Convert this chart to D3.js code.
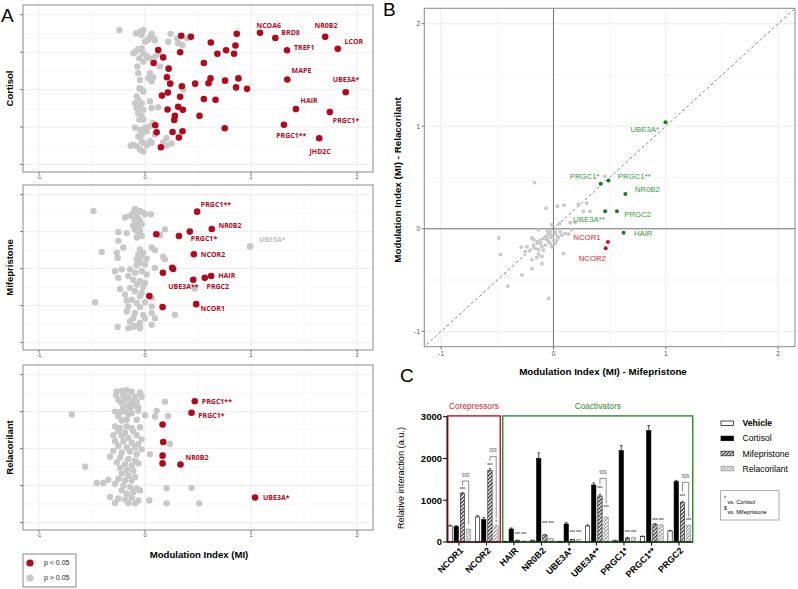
<!DOCTYPE html>
<html><head><meta charset="utf-8">
<script src="https://cdn.jsdelivr.net/npm/d3@7"></script>
<style>body{margin:0;background:#fff}svg{font-family:"Liberation Sans",Arial,sans-serif}</style>
</head><body><svg id="c" width="798" height="589"></svg>
<script>
// ---------------- DATA ----------------
// Panel A: [Modulation Index, jitter]
const cortisolSig = [[0.342,3.44],[0.433,3.41],[0.865,3.49],[0.621,3.26],[0.853,3.18],[0.125,3.06],[0.332,3.00],[0.683,2.96],[0.765,3.05],[0.840,2.96],[0.172,2.86],[0.082,2.71],[0.555,2.71],[0.223,2.56],[0.207,2.33],[0.238,2.16],[0.348,2.09],[0.473,2.16],[0.599,2.17],[0.618,2.30],[0.755,2.24],[0.881,2.30],[0.859,2.06],[0.962,2.02],[0.216,1.92],[0.160,1.84],[0.332,1.81],[0.555,1.75],[0.665,1.73],[0.213,1.47],[0.313,1.54],[0.357,1.46],[0.282,1.30],[0.276,1.19],[0.514,1.30],[0.097,1.05],[0.110,0.86],[0.260,0.87],[0.354,0.89],[0.320,0.72],[0.752,0.97],[0.150,0.46]];
const cortisolNS = [[-0.241,3.59],[-0.085,3.50],[-0.047,3.55],[-0.016,3.59],[-0.031,3.46],[0.063,3.49],[0.047,3.41],[0.085,3.37],[0.031,3.33],[0.0,3.28],[0.094,3.31],[0.241,3.49],[0.304,3.37],[0.219,3.28],[0.313,3.24],[0.354,3.19],[0.398,3.37],[-0.085,3.02],[-0.063,3.08],[-0.031,3.10],[-0.110,2.97],[-0.016,2.97],[-0.053,2.84],[0.016,2.90],[0.094,2.88],[0.041,2.84],[0.125,2.95],[0.047,2.44],[0.078,2.33],[0.031,2.31],[-0.047,2.26],[0.063,2.22],[-0.053,2.04],[-0.031,2.00],[-0.016,1.95],[-0.078,1.82],[-0.063,1.73],[-0.094,1.64],[-0.031,1.64],[0.047,1.69],[-0.078,1.51],[-0.047,1.53],[-0.016,1.46],[-0.063,1.37],[-0.031,1.29],[-0.016,1.20],[-0.053,1.20],[0.063,1.51],[0.125,1.53],[0.361,2.00],[-0.094,0.98],[-0.047,0.93],[0.0,0.98],[0.047,1.02],[0.016,0.89],[-0.031,0.80],[-0.063,0.75],[-0.110,0.53],[-0.135,0.50],[-0.078,0.49],[-0.031,0.62],[-0.016,0.58],[0.016,0.51],[0.063,0.58],[-0.047,0.40],[-0.016,0.35],[0.204,0.51],[0.172,0.59],[0.251,0.56],[0.094,0.80],[0.047,0.62],[0.078,1.11],[0.204,0.71],[-0.063,2.44],[-0.072,2.62],[0.141,2.62],[-0.016,2.75]];
const cortisolLabeled = [["NCOA6",1.085,3.52],["BRD8",1.229,3.38],["NR0B2",1.699,3.41],["LCOR",1.818,3.09],["TREF1",1.339,3.05],["MAPE",1.342,2.27],["UBE3A*",1.893,1.93],["HAIR",1.423,1.48],["PRGC1*",1.743,1.40],["PRGC1**",1.310,1.06],["JHD2C",1.643,0.70]];

const mifeSig = [[0.320,2.88],[0.107,2.93],[0.257,2.02],[0.266,1.99],[0.169,1.89],[0.041,1.26],[0.166,0.96]];
const mifeNS = [[-0.486,3.56],[-0.094,3.61],[-0.047,3.56],[-0.110,3.52],[-0.078,3.45],[-0.016,3.52],[0.0,3.47],[0.056,3.47],[-0.141,3.43],[-0.188,3.38],[-0.063,3.35],[-0.100,3.32],[-0.047,3.29],[-0.078,3.23],[-0.031,3.20],[-0.110,3.16],[-0.063,3.11],[-0.094,3.05],[-0.047,3.02],[0.188,3.06],[-0.251,2.99],[-0.172,2.96],[-0.063,2.93],[-0.078,2.84],[-0.031,2.88],[0.141,2.90],[-0.251,2.75],[-0.204,2.57],[-0.266,2.43],[-0.408,2.45],[-0.257,2.29],[-0.047,2.52],[-0.016,2.43],[-0.063,2.38],[0.063,2.57],[0.094,2.50],[-0.031,2.32],[-0.078,2.25],[0.016,2.27],[0.172,2.32],[0.188,2.25],[-0.047,2.16],[0.0,2.11],[-0.078,2.09],[0.094,2.02],[-0.282,1.93],[-0.219,1.98],[-0.141,1.98],[-0.094,1.89],[-0.031,1.93],[0.016,1.84],[-0.157,1.80],[-0.251,1.75],[-0.110,1.70],[-0.047,1.66],[0.0,1.61],[-0.078,1.57],[-0.141,1.48],[-0.016,1.50],[-0.235,1.45],[-0.094,1.39],[-0.031,1.34],[-0.188,1.30],[-0.047,1.25],[0.063,1.21],[-0.125,1.16],[-0.172,1.14],[-0.078,1.07],[0.0,1.09],[-0.470,1.09],[-0.157,0.98],[-0.047,0.96],[-0.172,0.84],[0.063,0.98],[0.282,0.75],[-0.094,0.80],[-0.016,0.75],[0.063,0.80],[-0.110,0.66],[0.0,0.66],[0.094,0.66],[-0.141,0.57],[-0.047,0.53],[-0.094,0.45],[0.063,0.48],[-0.257,0.42],[-0.157,0.39],[-0.110,0.42],[-0.047,0.39],[0.141,2.91],[0.470,1.46]];
const mifeLabeled = [["PRGC1**",0.492,3.54,1],["NR0B2",0.630,3.07,1],["PRGC1*",0.423,3.00,1],["NCOR2",0.461,2.39,1],["HAIR",0.624,1.80,1],["PRGC2",0.564,1.75,1],["UBE3A**",0.455,1.70,1],["NCOR1",0.483,1.04,1],["UBE3A*",0.991,2.60,0]];

const reliSig = [[0.166,2.65],[0.172,2.18],[0.166,1.81],[0.166,1.60]];
const reliNS = [[-0.266,3.54],[-0.219,3.56],[-0.172,3.58],[-0.125,3.54],[-0.047,3.52],[-0.273,3.45],[-0.204,3.45],[-0.157,3.40],[-0.094,3.40],[-0.031,3.40],[-0.251,3.32],[-0.188,3.34],[-0.125,3.29],[-0.078,3.27],[-0.219,3.23],[-0.157,3.18],[-0.110,3.16],[-0.204,3.11],[-0.141,3.09],[-0.063,3.11],[-0.282,3.00],[-0.235,2.99],[-0.188,3.00],[-0.125,2.96],[-0.063,3.02],[0.0,2.90],[-0.251,2.87],[-0.157,2.92],[-0.219,2.76],[-0.172,2.78],[-0.078,2.78],[0.110,3.02],[0.094,2.87],[0.219,2.88],[0.188,3.27],[-0.690,2.92],[-0.282,2.60],[-0.235,2.56],[-0.172,2.60],[-0.125,2.56],[-0.047,2.58],[-0.251,2.47],[-0.188,2.43],[-0.110,2.47],[-0.298,2.36],[-0.219,2.34],[-0.157,2.29],[-0.078,2.36],[-0.031,2.25],[-0.282,2.20],[-0.204,2.19],[-0.125,2.16],[-0.063,2.12],[0.235,2.13],[-0.251,2.07],[-0.172,2.03],[-0.094,2.03],[-0.031,1.98],[-0.298,1.94],[-0.219,1.89],[-0.141,1.92],[-0.078,1.85],[0.047,1.85],[-0.329,1.78],[-0.235,1.76],[-0.157,1.72],[-0.094,1.67],[-0.266,1.63],[-0.188,1.58],[-0.125,1.54],[-0.063,1.60],[-0.564,1.51],[-0.235,1.48],[-0.172,1.42],[-0.110,1.40],[-0.219,1.32],[-0.157,1.27],[-0.094,1.23],[-0.251,1.18],[-0.188,1.14],[-0.125,1.14],[-0.455,1.07],[-0.392,1.07],[-0.345,1.16],[-0.282,1.05],[-0.204,1.00],[-0.141,0.96],[-0.078,0.92],[-0.219,0.87],[-0.172,0.78],[-0.110,0.83],[-0.047,0.87],[0.204,0.93],[0.439,0.94],[-0.329,0.69],[-0.251,0.65],[-0.188,0.62],[-0.125,0.68],[-0.063,0.60],[-0.282,0.53],[-0.157,0.53],[-0.094,0.52],[0.041,0.60],[0.204,0.52],[0.511,0.52]];
const reliLabeled = [["PRGC1**",0.470,3.28],["PRGC1*",0.439,2.97],["NR0B2",0.335,1.57],["UBE3A*",1.038,0.68]];

const facetNames = ["Cortisol","Mifepristone","Relacorilant"];
const aTicks = [-1,0,1,2];

// Panel B: [MI Mifepristone, MI Relacorilant]
const bGrey = [[-0.168,0.45],[-0.065,0.20],[0.035,0.22],[0.094,0.23],[0.221,0.24],[0.295,0.25],[0.053,0.05],[0.148,0.06],[0.266,0.17],[0.325,0.17],[0.458,0.51],[0.192,0.06],[-0.487,-0.09],[-0.472,-0.25],[-0.407,-0.56],[-0.280,-0.45],[-0.044,-0.68],[0.089,-0.24],[-0.103,-0.34],[-0.192,-0.39],[-0.286,-0.18],[-0.251,-0.22],[-0.192,-0.30],[-0.148,-0.28],[-0.103,-0.27],[-0.192,-0.09],[-0.133,-0.01],[-0.015,0.04],[-0.177,-0.104],[-0.148,-0.126],[-0.118,-0.110],[-0.089,-0.094],[-0.065,-0.071],[-0.044,-0.045],[-0.030,-0.084],[-0.015,-0.062],[0.015,-0.045],[0.035,-0.071],[0.059,-0.029],[0.074,-0.062],[0.0,-0.110],[-0.044,-0.126],[-0.074,-0.159],[-0.103,-0.175],[-0.133,-0.201],[-0.162,-0.191],[-0.118,-0.143],[-0.059,-0.104],[-0.030,-0.143],[-0.089,-0.208],[-0.133,-0.246],[-0.177,-0.159],[-0.207,-0.208],[-0.236,-0.175],[0.030,-0.110],[0.015,-0.143],[-0.015,-0.175],[0.044,-0.084],[0.103,-0.045],[0.133,-0.052],[-0.030,-0.029],[-0.059,-0.013],[0.015,-0.013],[0.16,-0.01]];
const bCoactivators = [["UBE3A*",0.997,1.04],["PRGC1*",0.42,0.44],["PRGC1**",0.49,0.47],["NR0B2",0.64,0.34],["UBE3A**",0.46,0.17],["PRGC2",0.565,0.17],["HAIR",0.624,-0.04]];
const bCorepressors = [["NCOR1",0.485,-0.13],["NCOR2",0.465,-0.19]];
const bTicks = [-1,0,1,2];

// Panel C
const cCats = ["NCOR1","NCOR2","HAIR","NR0B2","UBE3A*","UBE3A**","PRGC1*","PRGC1**","PRGC2"];
const cSeries = ["Vehicle","Cortisol","Mifepristone","Relacorilant"];
const vehicleVals = [383,599,12,40,12,383,40,128,263];
const cortisolVals = [367,535,311,2003,431,1365,2187,2666,1445];
const mifeVals = [1157,1716,40,168,56,1101,96,423,942];
const reliVals = [295,383,24,80,56,583,104,399,391];
const vehicleErr = [20,30,4,5,4,25,5,15,15];
const cortisolErr = [25,50,25,130,30,50,120,120,30];
const mifeErr = [30,40,5,15,5,40,10,20,35];
const reliErr = [15,25,5,5,5,20,10,20,15];
const cTicks = [0,1000,2000,3000];
// significance annotations: [category, series, text, value-level]
const cStars = [["NCOR1","Mifepristone","***",1261],["NCOR2","Mifepristone","***",1844],["NCOR2","Relacorilant","*",479],
  ["HAIR","Mifepristone","***",184],["HAIR","Relacorilant","***",184],["NR0B2","Mifepristone","***",439],["NR0B2","Relacorilant","***",439],
  ["UBE3A*","Mifepristone","***",239],["UBE3A*","Relacorilant","***",239],["UBE3A**","Mifepristone","***",1285],["UBE3A**","Relacorilant","***",822],
  ["PRGC1*","Mifepristone","***",239],["PRGC1*","Relacorilant","***",239],["PRGC1**","Mifepristone","***",511],["PRGC1**","Relacorilant","***",511],
  ["PRGC2","Mifepristone","***",1101],["PRGC2","Relacorilant","***",511]];
// brackets: [category, top, leftLegEnd, rightLegEnd, label]
const cBrackets = [["NCOR1",1460,1350,420,"$$$"],["NCOR2",2043,1940,560,"$$$"],["UBE3A**",1524,1380,920,"$$$"],["PRGC2",1428,1200,600,"$$$"]];

// ---------------- DRAW ----------------
const svg = d3.select("#c");
const RED = "#b3091d", GREY = "#c8c8c8", GRID = "#ebebeb", FRAME = "#8a8a8a", TICKC = "#4d4d4d";

const defs = svg.append("defs");
function hatch(id, col){
  const p = defs.append("pattern").attr("id",id).attr("patternUnits","userSpaceOnUse")
    .attr("width",2.6).attr("height",2.6).attr("patternTransform","rotate(45)");
  p.append("rect").attr("width",2.6).attr("height",2.6).attr("fill","#fff");
  p.append("line").attr("x1",0.6).attr("y1",0).attr("x2",0.6).attr("y2",2.6).attr("stroke",col).attr("stroke-width",1.2);
}
hatch("hDark","#222"); hatch("hLight","#9a9a9a");

// ---- Panel A ----
svg.append("text").attr("x",1).attr("y",22).attr("font-size",19).text("A");
const xA = d3.scaleLinear().domain([-1.15,2.15]).range([23,373]);
const facetTops = [5,185,365], facetH = [167,165,165];
const aSets = [
  {sig:cortisolSig, ns:cortisolNS, lab:cortisolLabeled},
  {sig:mifeSig, ns:mifeNS, lab:mifeLabeled},
  {sig:reliSig, ns:reliNS, lab:reliLabeled}];
const labOff = [
  {"NCOA6":[-3.6,-7.5,"start"],"BRD8":[6,-5.3,"start"],"NR0B2":[-10.7,-11,"start"],"LCOR":[6.7,-7.7,"start"],"TREF1":[7,-2.7,"start"],
   "MAPE":[4.3,-8.7,"start"],"UBE3A*":[-13,-12.3,"start"],"HAIR":[4.7,-8.3,"start"],"PRGC1*":[3,8.7,"start"],"PRGC1**":[-7.7,10.3,"start"],"JHD2C":[-9.7,13,"start"]},
  {"PRGC1**":[3.7,-6.7,"start"],"NR0B2":[6.7,-3,"start"],"PRGC1*":[1,7.4,"start"],"NCOR2":[7,0,"start"],"HAIR":[7,0,"start"],
   "PRGC2":[1.7,8.4,"start"],"UBE3A**":[-25,6.4,"start"],"NCOR1":[4.4,4,"start"],"UBE3A*":[9,-7,"start"]},
  {"PRGC1**":[7,0,"start"],"PRGC1*":[6.6,3,"start"],"NR0B2":[5,-6.7,"start"],"UBE3A*":[8,0,"start"]}];

aSets.forEach((set,i)=>{
  const top = facetTops[i], bot = top+facetH[i];
  const yA = d3.scaleLinear().domain([-0.2,4.26]).range([bot,top]);
  const g = svg.append("g");
  g.append("rect").attr("x",23).attr("y",top).attr("width",350).attr("height",facetH[i]).attr("fill","#fff");
  [-0.5,0.5,1.5].forEach(v=>g.append("line").attr("x1",xA(v)).attr("x2",xA(v)).attr("y1",top).attr("y2",bot).attr("stroke","#f3f3f3").attr("stroke-width",0.6));
  d3.range(0.5,4,1).forEach(v=>g.append("line").attr("x1",23).attr("x2",373).attr("y1",yA(v)).attr("y2",yA(v)).attr("stroke","#f0f0f0").attr("stroke-width",0.6));
  aTicks.forEach(v=>g.append("line").attr("x1",xA(v)).attr("x2",xA(v)).attr("y1",top).attr("y2",bot).attr("stroke",GRID).attr("stroke-width",0.9));
  d3.range(0,5).forEach(v=>g.append("line").attr("x1",23).attr("x2",373).attr("y1",yA(v)).attr("y2",yA(v)).attr("stroke",GRID).attr("stroke-width",0.9));
  g.selectAll(null).data(set.ns).join("circle").attr("cx",d=>xA(d[0])).attr("cy",d=>yA(d[1])).attr("r",3.2).attr("fill",GREY);
  g.selectAll(null).data(set.sig).join("circle").attr("cx",d=>xA(d[0])).attr("cy",d=>yA(d[1])).attr("r",3.3).attr("fill",RED);
  g.selectAll(null).data(set.lab).join("circle").attr("cx",d=>xA(d[1])).attr("cy",d=>yA(d[2])).attr("r",3.3)
    .attr("fill",d=>d[3]===0?GREY:RED);
  g.selectAll(null).data(set.lab).join("text")
    .attr("x",d=>xA(d[1])+labOff[i][d[0]][0]).attr("y",d=>yA(d[2])+labOff[i][d[0]][1])
    .attr("dy","0.35em").attr("text-anchor",d=>labOff[i][d[0]][2])
    .attr("font-size",7).attr("font-weight","bold").attr("font-family","'Open Sans','DejaVu Sans',sans-serif")
    .attr("fill",d=>d[3]===0?"#c0c0c0":RED).text(d=>d[0]);
  g.append("rect").attr("x",23).attr("y",top).attr("width",350).attr("height",facetH[i]).attr("fill","none").attr("stroke",FRAME).attr("stroke-width",1);
  d3.range(0,5).forEach(v=>g.append("line").attr("x1",20).attr("x2",23).attr("y1",yA(v)).attr("y2",yA(v)).attr("stroke","#444").attr("stroke-width",0.7));
  aTicks.forEach(v=>{
    g.append("line").attr("x1",xA(v)).attr("x2",xA(v)).attr("y1",bot).attr("y2",bot+2.5).attr("stroke","#444").attr("stroke-width",0.7);
    g.append("text").attr("x",xA(v)).attr("y",bot+7).attr("text-anchor","middle").attr("font-size",5.5).attr("fill",TICKC).text(v);
  });
  g.append("text").attr("transform",`translate(13,${(top+bot)/2}) rotate(-90)`).attr("text-anchor","middle")
    .attr("font-size",9.5).attr("font-weight","bold").text(facetNames[i]);
});
svg.append("text").attr("x",199).attr("y",558).attr("text-anchor","middle").attr("font-size",9.6).attr("font-weight","bold").text("Modulation Index (MI)");
svg.append("rect").attr("x",23).attr("y",554).attr("width",53).attr("height",33).attr("fill","#fff").attr("stroke","#555").attr("stroke-width",0.7);
[["p < 0.05",RED],["p > 0.05",GREY]].forEach((d,k)=>{
  svg.append("circle").attr("cx",30).attr("cy",563+k*15).attr("r",3.6).attr("fill",d[1]);
  svg.append("text").attr("x",44).attr("y",563+k*15).attr("dy","0.35em").attr("font-size",7).attr("fill","#222").text(d[0]);
});

// ---- Panel B ----
svg.append("text").attr("x",383).attr("y",16).attr("font-size",19).text("B");
const xB = d3.scaleLinear().domain([-1.15,2.15]).range([424.3,795]);
const yB = d3.scaleLinear().domain([-1.15,2.15]).range([346.7,8.3]);
const gB = svg.append("g");
gB.append("rect").attr("x",424.3).attr("y",8.3).attr("width",370.7).attr("height",338.4).attr("fill","#fff");
[-0.5,0.5,1.5].forEach(v=>{
  gB.append("line").attr("x1",xB(v)).attr("x2",xB(v)).attr("y1",8.3).attr("y2",346.7).attr("stroke","#f2f2f2").attr("stroke-width",0.6);
  gB.append("line").attr("y1",yB(v)).attr("y2",yB(v)).attr("x1",424.3).attr("x2",795).attr("stroke","#f2f2f2").attr("stroke-width",0.6);
});
bTicks.forEach(v=>{
  gB.append("line").attr("x1",xB(v)).attr("x2",xB(v)).attr("y1",8.3).attr("y2",346.7).attr("stroke",GRID).attr("stroke-width",0.9);
  gB.append("line").attr("y1",yB(v)).attr("y2",yB(v)).attr("x1",424.3).attr("x2",795).attr("stroke",GRID).attr("stroke-width",0.9);
});
gB.append("line").attr("x1",xB(0)).attr("x2",xB(0)).attr("y1",8.3).attr("y2",346.7).attr("stroke","#666").attr("stroke-width",0.9);
gB.append("line").attr("y1",yB(0)).attr("y2",yB(0)).attr("x1",424.3).attr("x2",795).attr("stroke","#666").attr("stroke-width",0.9);
gB.append("line").attr("x1",xB(-1.13)).attr("y1",yB(-1.13)).attr("x2",xB(2.14)).attr("y2",yB(2.14))
  .attr("stroke","#555").attr("stroke-width",0.7).attr("stroke-dasharray","3,2.5");
gB.selectAll(null).data(bGrey).join("circle").attr("cx",d=>xB(d[0])).attr("cy",d=>yB(d[1])).attr("r",1.9).attr("fill",GREY);
const GREEN_DOT = "#1d7a1d", GREEN_TXT = "#3a9a3a", RED_DOT = "#d0101e", RED_TXT = "#e3212f";
const bOff = {"UBE3A*":[-6.4,7.3,"end"],"PRGC1*":[-1,-7.6,"end"],"PRGC1**":[9.3,-4.3,"start"],"NR0B2":[9.3,-4.7,"start"],
  "UBE3A**":[-0.4,8,"end"],"PRGC2":[7.3,2.7,"start"],"HAIR":[10.3,0,"start"],"NCOR1":[-7.3,-5,"end"],"NCOR2":[0.3,10,"end"]};
[[bCoactivators,GREEN_DOT,GREEN_TXT],[bCorepressors,RED_DOT,RED_TXT]].forEach(([arr,dc,tc])=>{
  gB.selectAll(null).data(arr).join("circle").attr("cx",d=>xB(d[1])).attr("cy",d=>yB(d[2])).attr("r",2).attr("fill",dc);
  gB.selectAll(null).data(arr).join("text").attr("x",d=>xB(d[1])+bOff[d[0]][0]).attr("y",d=>yB(d[2])+bOff[d[0]][1])
    .attr("dy","0.35em").attr("text-anchor",d=>bOff[d[0]][2]).attr("font-size",7.8).attr("fill",tc).text(d=>d[0]);
});
gB.append("rect").attr("x",424.3).attr("y",8.3).attr("width",370.7).attr("height",338.4).attr("fill","none").attr("stroke",FRAME).attr("stroke-width",1);
bTicks.forEach(v=>{
  gB.append("line").attr("x1",xB(v)).attr("x2",xB(v)).attr("y1",346.7).attr("y2",349.5).attr("stroke","#444").attr("stroke-width",0.7);
  gB.append("text").attr("x",xB(v)).attr("y",354).attr("dy","0.35em").attr("text-anchor","middle").attr("font-size",6.5).attr("fill",TICKC).text(v);
  gB.append("line").attr("y1",yB(v)).attr("y2",yB(v)).attr("x1",421.5).attr("x2",424.3).attr("stroke","#444").attr("stroke-width",0.7);
  gB.append("text").attr("x",420).attr("y",yB(v)).attr("dy","0.35em").attr("text-anchor","end").attr("font-size",6.5).attr("fill",TICKC).text(v);
});
svg.append("text").attr("x",603).attr("y",375).attr("text-anchor","middle").attr("font-size",9.8).attr("font-weight","bold").text("Modulation Index (MI) - Mifepristone");
svg.append("text").attr("transform","translate(401,180) rotate(-90)").attr("text-anchor","middle").attr("font-size",9.8).attr("font-weight","bold").text("Modulation Index (MI) - Relacorilant");

// ---- Panel C ----
svg.append("text").attr("x",400).attr("y",382).attr("font-size",19).text("C");
const xC = d3.scaleBand().domain(cCats).range([445.25,692.75]);
const xS = d3.scaleBand().domain(cSeries).range([2.6,25.6]).paddingInner(0.3);
const yC = d3.scaleLinear().domain([0,3000]).range([542,416.7]);
const vals = {"Vehicle":vehicleVals,"Cortisol":cortisolVals,"Mifepristone":mifeVals,"Relacorilant":reliVals};
const errs = {"Vehicle":vehicleErr,"Cortisol":cortisolErr,"Mifepristone":mifeErr,"Relacorilant":reliErr};
const fills = {"Vehicle":"#fff","Cortisol":"#000","Mifepristone":"url(#hDark)","Relacorilant":"url(#hLight)"};
const strokes = {"Vehicle":"#000","Cortisol":"#000","Mifepristone":"#222","Relacorilant":"#9a9a9a"};
const gC = svg.append("g");
cSeries.forEach(s=>{
  cCats.forEach((c,j)=>{
    const x = xC(c)+xS(s), w = xS.bandwidth(), v = vals[s][j], e = errs[s][j];
    const cx = x+w/2;
    gC.append("line").attr("x1",cx).attr("x2",cx).attr("y1",yC(v)).attr("y2",yC(v+e)).attr("stroke",strokes[s]).attr("stroke-width",0.7);
    gC.append("line").attr("x1",cx-1.3).attr("x2",cx+1.3).attr("y1",yC(v+e)).attr("y2",yC(v+e)).attr("stroke",strokes[s]).attr("stroke-width",0.7);
    gC.append("rect").attr("x",x).attr("y",yC(v)).attr("width",w).attr("height",Math.max(0.5,yC(0)-yC(v)))
      .attr("fill",fills[s]).attr("stroke",strokes[s]).attr("stroke-width",0.6);
  });
});
cStars.forEach(([c,s,t,lv])=>{
  gC.append("text").attr("x",xC(c)+xS(s)+xS.bandwidth()/2).attr("y",yC(lv)).attr("dy","0.35em").attr("text-anchor","middle")
    .attr("font-size",4.5).attr("font-weight","bold").attr("fill","#555").text(t);
});
cBrackets.forEach(([c,top,l,r,t])=>{
  const x1 = xC(c)+xS("Mifepristone")+xS.bandwidth()/2, x2 = xC(c)+xS("Relacorilant")+xS.bandwidth()/2;
  gC.append("path").attr("d",`M${x1},${yC(l)}V${yC(top)}H${x2}V${yC(r)}`).attr("fill","none").attr("stroke","#444").attr("stroke-width",0.6);
  gC.append("text").attr("x",(x1+x2)/2).attr("y",yC(top)-6).attr("dy","0.35em").attr("text-anchor","middle")
    .attr("font-size",4.5).attr("fill","#777").text(t);
});
const step = xC.step();
const boxTop = yC(3000)-0.8, boxBot = yC(0);
const redX1 = xC("NCOR1")+2.5, redX2 = xC("NCOR2")+step;
const grX1 = xC("HAIR")+2.5, grX2 = xC("PRGC2")+step;
gC.append("rect").attr("x",redX1).attr("y",boxTop).attr("width",redX2-redX1).attr("height",boxBot-boxTop).attr("fill","none").attr("stroke","#c3121f").attr("stroke-width",1.4);
gC.append("rect").attr("x",grX1).attr("y",boxTop).attr("width",grX2-grX1).attr("height",boxBot-boxTop).attr("fill","none").attr("stroke","#2c8a2c").attr("stroke-width",1.4);
gC.append("text").attr("x",(redX1+redX2)/2).attr("y",406).attr("dy","0.35em").attr("text-anchor","middle").attr("font-size",8.3).attr("fill","#d0202a").text("Corepressors");
gC.append("text").attr("x",(grX1+grX2)/2).attr("y",406).attr("dy","0.35em").attr("text-anchor","middle").attr("font-size",8.3).attr("fill","#2c8a2c").text("Coactivators");
gC.append("line").attr("x1",447).attr("x2",447).attr("y1",yC(3000)).attr("y2",yC(0)).attr("stroke","#000").attr("stroke-width",1);
cTicks.forEach(v=>{
  gC.append("line").attr("x1",443).attr("x2",447).attr("y1",yC(v)).attr("y2",yC(v)).attr("stroke","#000").attr("stroke-width",1);
  gC.append("text").attr("x",442).attr("y",yC(v)).attr("dy","0.35em").attr("text-anchor","end").attr("font-size",9.5).attr("font-weight","bold").text(v);
});
gC.append("line").attr("x1",447).attr("x2",692.75).attr("y1",542).attr("y2",542).attr("stroke","#000").attr("stroke-width",1);
cCats.forEach(c=>{
  const cx = xC(c)+step/2;
  gC.append("line").attr("x1",cx).attr("x2",cx).attr("y1",542).attr("y2",545.5).attr("stroke","#000").attr("stroke-width",1);
  gC.append("text").attr("transform",`translate(${cx+2.5},${549}) rotate(-45)`).attr("text-anchor","end").attr("dy","0.35em")
    .attr("font-size",9).attr("font-weight","bold").text(c);
});
svg.append("text").attr("transform","translate(404,478) rotate(-90)").attr("text-anchor","middle").attr("font-size",9.2).text("Relative interaction (a.u.)");
cSeries.forEach((s,k)=>{
  const y = 423.3 + k*15.1;
  svg.append("rect").attr("x",721).attr("y",y-2.3).attr("width",12.5).attr("height",4.6).attr("fill",fills[s]).attr("stroke",strokes[s]).attr("stroke-width",0.7);
  svg.append("text").attr("x",742.5).attr("y",y).attr("dy","0.35em").attr("font-size",8.6).attr("font-weight",k===0?"bold":"normal").text(s);
});
svg.append("rect").attr("x",720.7).attr("y",490.7).attr("width",58.3).attr("height",29.3).attr("fill","#fff").attr("stroke","#888").attr("stroke-width",0.7);
[["*","vs. Cortisol",502],["$","vs. Mifepristone",512]].forEach(([sym,t,y])=>{
  svg.append("text").attr("x",724).attr("y",y-2.5).attr("font-size",5).text(sym);
  svg.append("text").attr("x",727.5).attr("y",y).attr("dy","0.35em").attr("font-size",5.6).text(t);
});
</script></body></html>
